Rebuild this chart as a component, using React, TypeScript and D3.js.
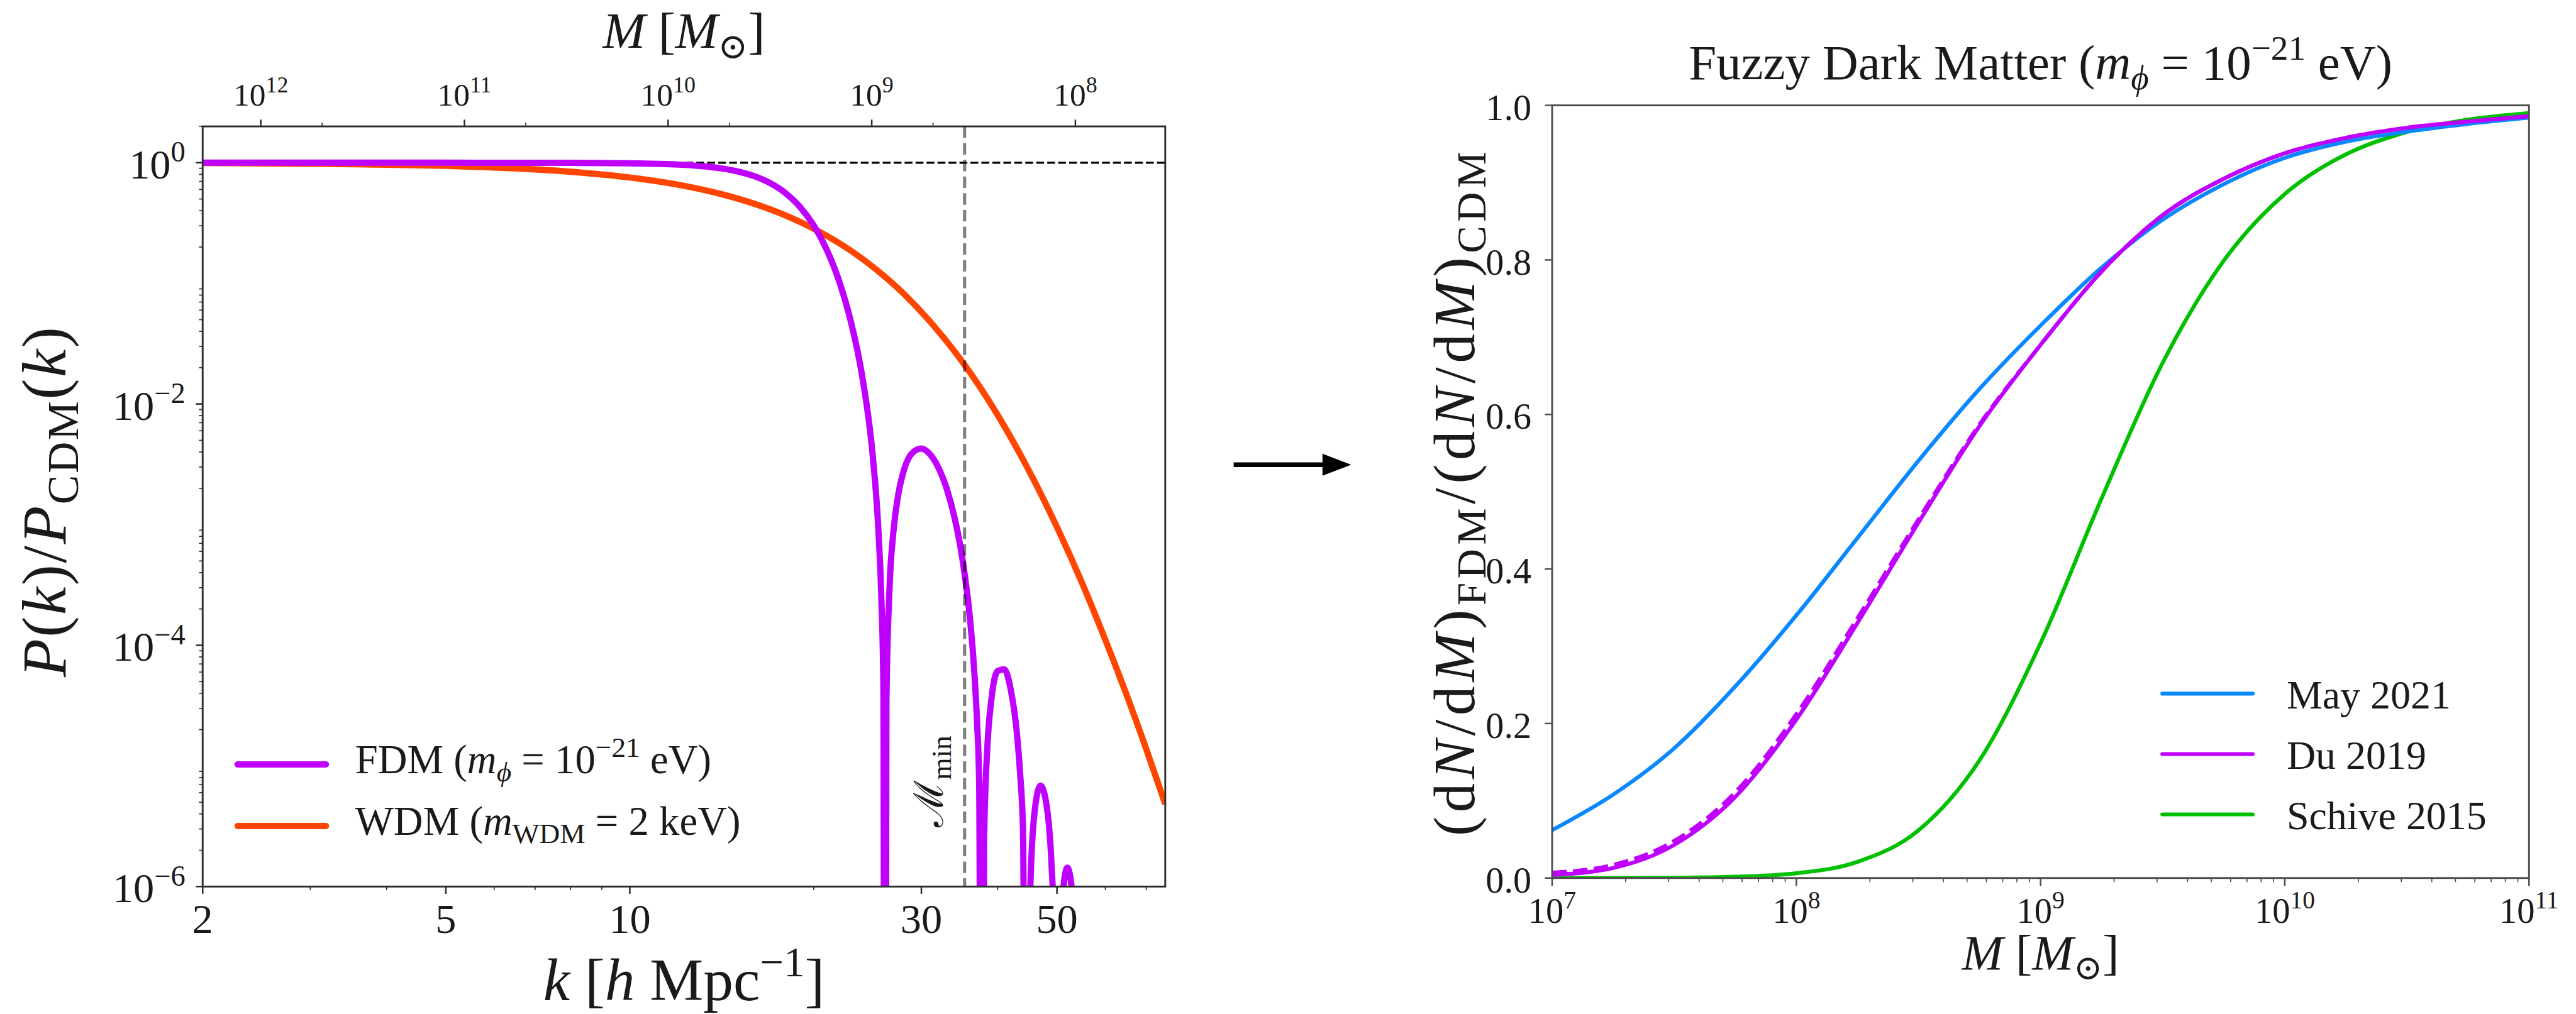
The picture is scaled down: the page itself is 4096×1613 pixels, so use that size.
import React from "react";
import * as d3 from "d3";

const REF_W = 4932;
const REF_H = 1942;
const OUT_W = 4096;
const OUT_H = 1613;

// ---------------- Left panel data ----------------
const kDomain = [2, 75.2];
const pDomain = [1e-6, 2];
const mTopDomain = [1.93e12, 3.62e7];
const kMajorTicks = [2, 5, 10, 30, 50];
const kMinorTicks = [3, 4, 6, 7, 8, 9, 20, 40, 60, 70];
const pMajorTicks = [1, 1e-2, 1e-4, 1e-6];
const pMajorExp = ["0", "\u22122", "\u22124", "\u22126"];
const mTopMajorTicks = [1e12, 1e11, 1e10, 1e9, 1e8];
const mTopMajorExp = ["12", "11", "10", "9", "8"];
const mTopMinorTicks = [5e11, 5e10, 5e9, 5e8];
const mMinValue = 3.5e8;

// FDM (m = 1e-21 eV) power-spectrum ratio (dips go to ~0)
const fdmK = [
  2, 5, 8, 10, 12, 13, 14, 15, 16, 17, 18, 19, 20, 21, 22, 23, 24, 25, 25.5, 25.8, 26.0, 26.155,
  26.3, 26.6, 27, 27.5, 28, 29, 30, 31, 32, 33, 34, 35, 36, 36.5, 37, 37.3, 37.708,
  38, 38.5, 39, 40, 41, 42, 43, 43.5, 44, 44.715,
  45.2, 46, 47, 48, 49, 49.5, 50.04,
  51, 52, 53, 54, 54.4,
];
const fdmP = [
  1, 0.9999, 0.9975, 0.9894, 0.9645, 0.9397, 0.9021, 0.8473, 0.7719, 0.6743, 0.5573, 0.4288, 0.3018, 0.1903, 0.1047, 0.0482, 0.01711, 3.545e-3, 9.53e-4, 2.5e-4, 4.42e-5, 1e-12,
  3.44e-5, 2.857e-4, 8.73e-4, 1.779e-3, 2.673e-3, 3.931e-3, 4.274e-3, 3.824e-3, 2.957e-3, 1.99e-3, 1.141e-3, 5.28e-4, 1.737e-4, 7.69e-5, 2.32e-5, 7.16e-6, 1e-12,
  2.42e-6, 1.537e-5, 3.335e-5, 6.126e-5, 6.32e-5, 4.32e-5, 1.861e-5, 8.97e-6, 2.92e-6, 1e-12,
  8.85e-7, 4.33e-6, 6.86e-6, 5.0e-6, 1.49e-6, 3.81e-7, 1e-12,
  7.53e-7, 1.434e-6, 8.52e-7, 7.9e-8, 1e-12,
];

// WDM (2 keV)
const wdmK = [2, 3, 4, 5, 6, 7, 8, 10, 12, 14, 16, 18, 20, 22, 25, 28, 31, 35, 40, 45, 50, 55, 60, 65, 70, 75.2];
const wdmP = [
  0.995, 0.981, 0.964, 0.942, 0.913, 0.88, 0.842, 0.754, 0.657, 0.555, 0.456, 0.365, 0.2836, 0.2158, 0.1368,
  0.083, 0.0482, 0.0224, 0.00809, 0.0028, 9.55e-4, 3.26e-4, 1.11e-4, 3.88e-5, 1.38e-5, 4.83e-6,
];

// ---------------- Right panel data ----------------
const massLog10 = [7, 7.25, 7.5, 7.75, 8, 8.25, 8.5, 8.75, 9, 9.25, 9.5, 9.75, 10, 10.25, 10.5, 10.75, 11];
const may2021 = [0.062, 0.108, 0.168, 0.248, 0.34, 0.44, 0.54, 0.633, 0.715, 0.79, 0.852, 0.898, 0.932, 0.953, 0.966, 0.976, 0.984];
const du2019 = [0.004, 0.013, 0.043, 0.105, 0.205, 0.33, 0.46, 0.585, 0.69, 0.785, 0.858, 0.905, 0.938, 0.958, 0.971, 0.979, 0.986];
const du2019Alt = [0.007, 0.017, 0.048, 0.111, 0.212, 0.336, 0.464, 0.587, 0.69, 0.785, 0.858, 0.905, 0.938, 0.958, 0.971, 0.979, 0.986];
const schive2015 = [2.9e-5, 1.16e-4, 4.55e-4, 1.73e-3, 6.26e-3, 0.0209, 0.0617, 0.1524, 0.3041, 0.4914, 0.6668, 0.7989, 0.8852, 0.9365, 0.9655, 0.9815, 0.9901];
const vTicks = [0, 0.2, 0.4, 0.6, 0.8, 1.0];
const mMajorTicks = [1e7, 1e8, 1e9, 1e10, 1e11];
const mMajorExp = ["7", "8", "9", "10", "11"];

const COL_FDM = "#c000ff";
const COL_WDM = "#ff4500";
const COL_MAY = "#0a88ff";
const COL_DU = "#c000ff";
const COL_SCH = "#00c000";

// ---------------- layout (reference pixel units) ----------------
const L = { x0: 388, x1: 2231, y0: 242, y1: 1698 };
const R = { x0: 2971.7, x1: 4842, y0: 201.7, y1: 1681.7 };

const FONT = "'Liberation Serif', 'DejaVu Serif', serif";
const INK = "#1a1a1a";

type Seg = { t: string; i?: boolean; s?: "sub" | "sup" };

function MText(props: {
  x: number; y: number; size: number; segs: Seg[]; anchor?: string; rotate?: number; fill?: string; spacing?: number;
}) {
  const { x, y, size, segs, anchor = "start", rotate = 0, fill = INK, spacing = 0 } = props;
  let cur = 0;
  const kids = segs.map((sg, idx) => {
    let target = 0;
    let fs = size;
    if (sg.s === "sub") { target = 0.2 * size; fs = 0.7 * size; }
    else if (sg.s === "sup") { target = -0.4 * size; fs = 0.7 * size; }
    const dy = target - cur;
    cur = target;
    return (
      <tspan key={idx} dy={dy} fontSize={fs} fontStyle={sg.i ? "italic" : "normal"}>
        {sg.t}
      </tspan>
    );
  });
  return (
    <text
      x={x}
      y={y}
      fontSize={size}
      textAnchor={anchor as any}
      fill={fill}
      fontFamily={FONT}
      letterSpacing={spacing || undefined}
      transform={rotate ? `rotate(${rotate} ${x} ${y})` : undefined}
      style={{ whiteSpace: "pre" }}
    >
      {kids}
    </text>
  );
}

export default function App() {
  const xK = d3.scaleLog().domain(kDomain).range([L.x0, L.x1]);
  const yP = d3.scaleLog().domain(pDomain).range([L.y1, L.y0]);
  const xMt = d3.scaleLog().domain(mTopDomain).range([L.x0, L.x1]);
  const xM = d3.scaleLog().domain([1e7, 1e11]).range([R.x0, R.x1]);
  const yV = d3.scaleLinear().domain([0, 1]).range([R.y1, R.y0]);

  const kpLine = d3
    .line<[number, number]>()
    .x((d) => xK(d[0]))
    .y((d) => yP(d[1]))
    .curve(d3.curveMonotoneX);
  const mvLine = d3
    .line<[number, number]>()
    .x((d) => xM(Math.pow(10, d[0])))
    .y((d) => yV(d[1]))
    .curve(d3.curveMonotoneX);

  const fdmPath = kpLine(fdmK.map((k, i) => [k, fdmP[i]] as [number, number])) || "";
  const wdmPath = kpLine(wdmK.map((k, i) => [k, wdmP[i]] as [number, number])) || "";
  const mk = (vals: number[]) => mvLine(massLog10.map((m, i) => [m, vals[i]] as [number, number])) || "";

  const pMinor = yP.ticks().filter((v) => {
    const l = Math.log10(v);
    return Math.abs(l - Math.round(l)) > 1e-6;
  });
  const mMinor = xM.ticks().filter((v) => {
    const l = Math.log10(v);
    return Math.abs(l - Math.round(l)) > 1e-6;
  });

  const frameL = "#2b2b2b";
  const frameR = "#4d4d4d";
  const tickMaj = 14;
  const tickMin = 7;

  const leftLegend = [
    { color: COL_FDM, segs: [{ t: "FDM (" }, { t: "m", i: true }, { t: "\u03d5", i: true, s: "sub" }, { t: " = 10" }, { t: "\u221221", s: "sup" }, { t: " eV)" }] as Seg[] },
    { color: COL_WDM, segs: [{ t: "WDM (" }, { t: "m", i: true }, { t: "WDM", s: "sub" }, { t: " = 2 keV)" }] as Seg[] },
  ];
  const rightLegend = [
    { color: COL_MAY, label: "May 2021" },
    { color: COL_DU, label: "Du 2019" },
    { color: COL_SCH, label: "Schive 2015" },
  ];

  const xMmin = xMt(mMinValue);

  return (
    <svg
      width={OUT_W}
      height={OUT_H}
      viewBox={`0 0 ${REF_W} ${REF_H}`}
      style={{ position: "absolute", left: 0, top: 0, display: "block", background: "#fff" }}
    >
      <defs>
        <clipPath id="clipL">
          <rect x={L.x0} y={L.y0} width={L.x1 - L.x0} height={L.y1 - L.y0} />
        </clipPath>
        <clipPath id="clipR">
          <rect x={R.x0} y={R.y0} width={R.x1 - R.x0} height={R.y1 - R.y0} />
        </clipPath>
      </defs>
      <rect x={0} y={0} width={REF_W} height={REF_H} fill="#fff" />

      {/* ================= LEFT PANEL ================= */}
      <g clipPath="url(#clipL)">
        <line x1={L.x0} x2={L.x1} y1={yP(1)} y2={yP(1)} stroke="#000" strokeWidth={4} strokeDasharray="15 6" />
        <path d={wdmPath} fill="none" stroke={COL_WDM} strokeWidth={12} strokeLinejoin="round" />
        <path d={fdmPath} fill="none" stroke={COL_FDM} strokeWidth={12} strokeLinejoin="round" />
        <line x1={xMmin} x2={xMmin} y1={L.y0} y2={L.y1} stroke="rgba(0,0,0,0.5)" strokeWidth={6} strokeDasharray="22 10" />
      </g>
      <rect x={L.x0} y={L.y0} width={L.x1 - L.x0} height={L.y1 - L.y0} fill="none" stroke={frameL} strokeWidth={3.5} />

      {kMajorTicks.map((k, i) => (
        <g key={"km" + i}>
          <line x1={xK(k)} x2={xK(k)} y1={L.y1} y2={L.y1 + tickMaj} stroke={frameL} strokeWidth={3} />
          <MText x={xK(k)} y={1787} size={80} anchor="middle" segs={[{ t: String(k) }]} />
        </g>
      ))}
      {kMinorTicks.map((k, i) => (
        <line key={"kn" + i} x1={xK(k)} x2={xK(k)} y1={L.y1} y2={L.y1 + tickMin} stroke={frameL} strokeWidth={2} />
      ))}
      {pMajorTicks.map((p, i) => (
        <g key={"pm" + i}>
          <line x1={L.x0 - 13} x2={L.x0} y1={yP(p)} y2={yP(p)} stroke={frameL} strokeWidth={3} />
          <MText x={355} y={yP(p) + 30} size={80} anchor="end" segs={[{ t: "10" }, { t: pMajorExp[i], s: "sup" }]} />
        </g>
      ))}
      {pMinor.map((p, i) => (
        <line key={"pn" + i} x1={L.x0 - 7} x2={L.x0} y1={yP(p)} y2={yP(p)} stroke={frameL} strokeWidth={2} />
      ))}
      {mTopMajorTicks.map((m, i) => (
        <g key={"tm" + i}>
          <line x1={xMt(m)} x2={xMt(m)} y1={L.y0} y2={L.y0 - 13} stroke={frameL} strokeWidth={3} />
          <MText x={xMt(m)} y={202} size={62} anchor="middle" segs={[{ t: "10" }, { t: mTopMajorExp[i], s: "sup" }]} />
        </g>
      ))}
      {mTopMinorTicks.map((m, i) => (
        <line key={"tn" + i} x1={xMt(m)} x2={xMt(m)} y1={L.y0} y2={L.y0 - 7} stroke={frameL} strokeWidth={2} />
      ))}

      <MText x={(L.x0 + L.x1) / 2} y={92} size={98} anchor="middle"
        segs={[{ t: "M", i: true }, { t: " [" }, { t: "M", i: true }, { t: "\u2299", s: "sub" }, { t: "]" }]} />
      <MText x={(L.x0 + L.x1) / 2} y={1916} size={115} anchor="middle"
        segs={[{ t: "k", i: true }, { t: " [" }, { t: "h", i: true }, { t: " Mpc" }, { t: "\u22121", s: "sup" }, { t: "]" }]} />
      <MText x={125} y={(L.y0 + L.y1) / 2 - 10} size={120} anchor="middle" rotate={-90} spacing={3}
        segs={[{ t: "P", i: true }, { t: "(" }, { t: "k", i: true }, { t: ")/" }, { t: "P", i: true }, { t: "CDM", s: "sub" }, { t: "(" }, { t: "k", i: true }, { t: ")" }]} />
      <MText x={1805} y={1584} size={78} anchor="start" rotate={-90}
        segs={[{ t: "\u2133" }, { t: "min", s: "sub" }]} />

      {leftLegend.map((e, i) => {
        const ly = 1464 + i * 118;
        return (
          <g key={"ll" + i}>
            <line x1={455} x2={624} y1={ly} y2={ly} stroke={e.color} strokeWidth={12} strokeLinecap="round" />
            <MText x={680} y={ly + 17} size={78} segs={e.segs} />
          </g>
        );
      })}

      {/* arrow */}
      <line x1={2362} x2={2545} y1={890} y2={890} stroke="#000" strokeWidth={9} />
      <path d="M2587,890 L2532,869 L2532,911 Z" fill="#000" />

      {/* ================= RIGHT PANEL ================= */}
      <g clipPath="url(#clipR)">
        <path d={mk(schive2015)} fill="none" stroke={COL_SCH} strokeWidth={7.5} strokeLinejoin="round" />
        <path d={mk(may2021)} fill="none" stroke={COL_MAY} strokeWidth={7.5} strokeLinejoin="round" />
        <path d={mk(du2019)} fill="none" stroke={COL_DU} strokeWidth={7.5} strokeLinejoin="round" />
        <path d={mk(du2019Alt)} fill="none" stroke={COL_DU} strokeWidth={7.5} strokeDasharray="28 12" strokeLinejoin="round" />
      </g>
      <rect x={R.x0} y={R.y0} width={R.x1 - R.x0} height={R.y1 - R.y0} fill="none" stroke={frameR} strokeWidth={3.5} />
      {vTicks.map((v, i) => (
        <g key={"vt" + i}>
          <line x1={R.x0 - 14} x2={R.x0} y1={yV(v)} y2={yV(v)} stroke={frameR} strokeWidth={3} />
          <MText x={2932} y={yV(v) + 28} size={70} anchor="end" segs={[{ t: v.toFixed(1) }]} />
        </g>
      ))}
      {mMajorTicks.map((m, i) => (
        <g key={"mt" + i}>
          <line x1={xM(m)} x2={xM(m)} y1={R.y1} y2={R.y1 + 15} stroke={frameR} strokeWidth={3} />
          <MText x={xM(m)} y={1767} size={68} anchor="middle" segs={[{ t: "10" }, { t: mMajorExp[i], s: "sup" }]} />
        </g>
      ))}
      {mMinor.map((m, i) => (
        <line key={"mn" + i} x1={xM(m)} x2={xM(m)} y1={R.y1} y2={R.y1 + 8} stroke={frameR} strokeWidth={2} />
      ))}
      <MText x={(R.x0 + R.x1) / 2} y={152} size={95} anchor="middle"
        segs={[{ t: "Fuzzy Dark Matter (" }, { t: "m", i: true }, { t: "\u03d5", i: true, s: "sub" }, { t: " = 10" }, { t: "\u221221", s: "sup" }, { t: " eV)" }]} />
      <MText x={(R.x0 + R.x1) / 2} y={1857} size={95} anchor="middle"
        segs={[{ t: "M", i: true }, { t: " [" }, { t: "M", i: true }, { t: "\u2299", s: "sub" }, { t: "]" }]} />
      <MText x={2822} y={(R.y0 + R.y1) / 2} size={112} anchor="middle" rotate={-90} spacing={8}
        segs={[{ t: "(d" }, { t: "N", i: true }, { t: "/d" }, { t: "M", i: true }, { t: ")" }, { t: "FDM", s: "sub" }, { t: "/(d" }, { t: "N", i: true }, { t: "/d" }, { t: "M", i: true }, { t: ")" }, { t: "CDM", s: "sub" }]} />

      {rightLegend.map((e, i) => {
        const ly = 1328.6 + i * 115.6;
        return (
          <g key={"rl" + i}>
            <line x1={4140} x2={4313} y1={ly} y2={ly} stroke={e.color} strokeWidth={7.5} strokeLinecap="round" />
            <MText x={4378} y={ly + 28} size={77} segs={[{ t: e.label }]} />
          </g>
        );
      })}
    </svg>
  );
}
